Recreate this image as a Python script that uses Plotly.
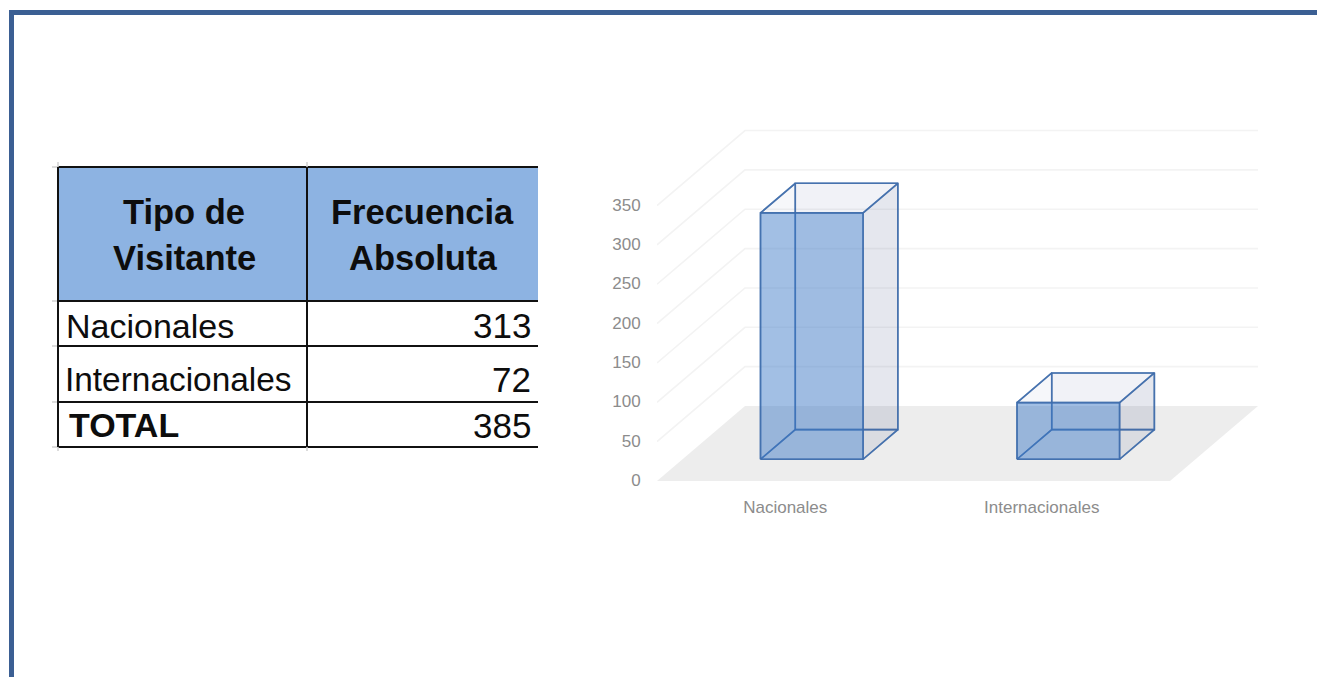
import plotly.graph_objects as go

# ---- data ----
categories = ["Nacionales", "Internacionales"]
values = [313, 72]
total_label = "TOTAL"
total_value = 385
table_headers = [["Tipo de", "Visitante"], ["Frecuencia", "Absoluta"]]
y_ticks = [0, 50, 100, 150, 200, 250, 300, 350]

# ---- page geometry (pixels) ----
W, H = 1317, 677
PLOT_L, PLOT_R, PLOT_B, PLOT_T = 657, 1265, 481, 120
CAT_PX = 256.5          # pixels per category along the floor front edge
VAL_PX = 0.787          # pixels per value unit
DEPTH_X = 88 / CAT_PX   # wall offset in category units
DEPTH_Y = 75 / VAL_PX   # wall offset in value units
BAR_D0, BAR_D1 = 0.29, 0.685
BAR_W0, BAR_W1 = 0.304, 0.704

def px(x):
    return x / W

def py(y):
    return 1 - y / H

def proj(cat, val, depth):
    return cat + depth * DEPTH_X, val + depth * DEPTH_Y

def poly(points, fill, line=None, width=1.6):
    xs, ys = zip(*[proj(*p) for p in points + points[:1]])
    return go.Scatter(
        x=xs, y=ys, mode="lines", fill="toself" if fill else None,
        fillcolor=fill, line=dict(color=line or "rgba(0,0,0,0)", width=width),
        hoverinfo="skip", showlegend=False, cliponaxis=False,
    )

fig = go.Figure()

# floor
n = len(categories)
fig.add_trace(poly([(0, 0, 0), (n, 0, 0), (n, 0, 1), (0, 0, 1)], "#EDEDED"))

# gridlines on side + back walls
for v in y_ticks[1:]:
    xs, ys = zip(proj(0, v, 0), proj(0, v, 1), proj(n, v, 1))
    fig.add_trace(go.Scatter(x=xs, y=ys, mode="lines", cliponaxis=False,
                             line=dict(color="#F3F3F3", width=1.6),
                             hoverinfo="skip", showlegend=False))

EDGE = "rgba(62,108,170,0.78)"
for i, v in enumerate(values):
    a, b = i + BAR_W0, i + BAR_W1
    d0, d1 = BAR_D0, BAR_D1
    # bottom, back, left
    fig.add_trace(poly([(a, 0, d0), (b, 0, d0), (b, 0, d1), (a, 0, d1)], None, EDGE))
    fig.add_trace(poly([(a, 0, d1), (b, 0, d1), (b, v, d1), (a, v, d1)], "rgba(80,105,160,0.03)", EDGE))
    fig.add_trace(poly([(a, 0, d0), (a, 0, d1), (a, v, d1), (a, v, d0)], None, EDGE))
    # top, right, front
    fig.add_trace(poly([(a, v, d0), (b, v, d0), (b, v, d1), (a, v, d1)], "rgba(80,105,160,0.05)", EDGE))
    fig.add_trace(poly([(b, 0, d0), (b, 0, d1), (b, v, d1), (b, v, d0)], "rgba(65,85,125,0.11)", EDGE))
    fig.add_trace(poly([(a, 0, d0), (b, 0, d0), (b, v, d0), (a, v, d0)], "rgba(57,119,197,0.47)", EDGE))

AXIS_FONT = dict(family="Liberation Sans, sans-serif", size=17, color="#8C8C8C")
fig.update_xaxes(
    domain=[px(PLOT_L), px(PLOT_R)],
    range=[0, (PLOT_R - PLOT_L) / CAT_PX],
    tickmode="array", tickvals=[i + 0.5 for i in range(n)], ticktext=categories,
    showgrid=False, zeroline=False, showline=False,
    ticks="outside", ticklen=11, tickcolor="rgba(0,0,0,0)", tickfont=AXIS_FONT,
)
fig.update_yaxes(
    domain=[py(PLOT_B), py(PLOT_T)],
    range=[0, (PLOT_B - PLOT_T) / VAL_PX],
    tickmode="array", tickvals=y_ticks, ticktext=[str(t) for t in y_ticks],
    showgrid=False, zeroline=False, showline=False,
    ticks="outside", ticklen=12, tickcolor="rgba(0,0,0,0)", tickfont=AXIS_FONT,
    ticklabelshift=-1,
)

# ---- page frame and table (paper shapes) ----
FRAME = "#3B5F93"
BLACK = "#111111"
NUB = "#D0D0D0"

def rect(x0, y0, x1, y1, color):
    fig.add_shape(type="rect", xref="paper", yref="paper", x0=px(x0), x1=px(x1),
                  y0=py(y0), y1=py(y1), fillcolor=color, line_width=0, layer="below")

def seg(x0, y0, x1, y1, color=BLACK, width=2):
    fig.add_shape(type="line", xref="paper", yref="paper", x0=px(x0), x1=px(x1),
                  y0=py(y0), y1=py(y1), line=dict(color=color, width=width))

def label(x, y, text, anchor="left", bold=False, size=33):
    fig.add_annotation(xref="paper", yref="paper", x=px(x), y=py(y), text=f"<b>{text}</b>" if bold else text,
                       showarrow=False, xanchor=anchor, yanchor="middle",
                       font=dict(family="Liberation Sans, Arial, sans-serif", size=size, color="#0D0D0D"))

rect(9, 10, W, 15, FRAME)
rect(9, 10, 14, H, FRAME)

T_L, T_M, T_R = 58, 307, 538
ROWS = [167, 301, 346, 402, 447]
rect(T_L, ROWS[0], T_R, ROWS[1], "#8DB3E2")
for y in ROWS:
    seg(T_L, y, T_R, y)
    seg(52, y, T_L, y, NUB, 1.5)
for x in (T_L, T_M):
    seg(x, ROWS[0], x, ROWS[-1])
    seg(x, 162, x, ROWS[0], NUB, 1.5)
    seg(x, ROWS[-1], x, 451, NUB, 1.5)

for col, cx in enumerate((184, 422.5)):
    for row, cy in enumerate((212, 258)):
        label(cx, cy, table_headers[col][row], anchor="center", bold=True, size=34.5)

label(64, 326, categories[0], size=34)
label(533, 326, str(values[0]), anchor="right", size=35)
label(63, 380, categories[1], size=33.4)
label(533, 380, str(values[1]), anchor="right", size=35)
label(67, 425, total_label, bold=True, size=34)
label(533, 425, str(total_value), anchor="right", size=35)

fig.update_layout(
    autosize=False, width=W, height=H, margin=dict(l=0, r=0, t=0, b=0, pad=0, autoexpand=False),
    paper_bgcolor="white", plot_bgcolor="rgba(0,0,0,0)", showlegend=False,
)

fig.write_html(
    "out.html",
    config={"displayModeBar": False, "responsive": False},
    default_width=f"{W}px",
    default_height=f"{H}px",
    post_script="document.body.style.margin='0';document.body.style.overflow='hidden';",
)
